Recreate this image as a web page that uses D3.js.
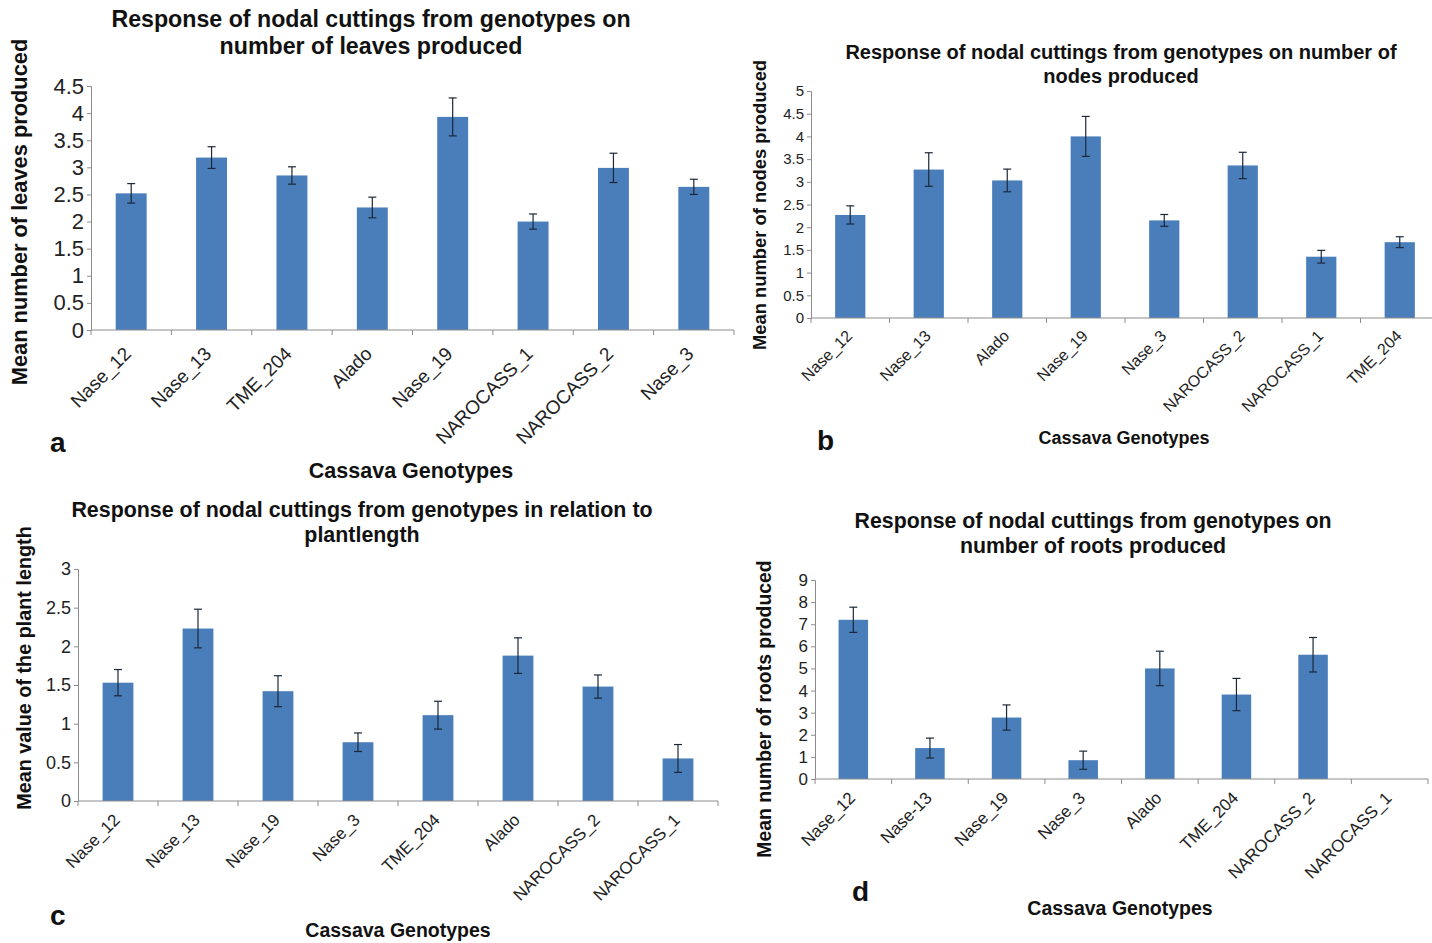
<!DOCTYPE html>
<html>
<head>
<meta charset="utf-8">
<script src="https://cdn.jsdelivr.net/npm/d3@7"></script>
<style>
  body { margin: 0; background: #fff; }
  svg { display: block; font-family: "Liberation Sans", Arial, sans-serif; }
</style>
</head>
<body>
<script>
// ---- data ----

// a: number of leaves
const leafGenotypes = ['Nase_12', 'Nase_13', 'TME_204', 'Alado', 'Nase_19', 'NAROCASS_1', 'NAROCASS_2', 'Nase_3'];
const leafMeans = [2.52, 3.18, 2.85, 2.26, 3.93, 2.0, 2.99, 2.64];
const leafErrors = [0.18, 0.2, 0.16, 0.19, 0.35, 0.14, 0.27, 0.14];
const leafTicks = [0, 0.5, 1, 1.5, 2, 2.5, 3, 3.5, 4, 4.5];

// b: number of nodes
const nodeGenotypes = ['Nase_12', 'Nase_13', 'Alado', 'Nase_19', 'Nase_3', 'NAROCASS_2', 'NAROCASS_1', 'TME_204'];
const nodeMeans = [2.27, 3.27, 3.03, 4.0, 2.15, 3.36, 1.35, 1.67];
const nodeErrors = [0.2, 0.37, 0.25, 0.44, 0.13, 0.29, 0.14, 0.12];
const nodeTicks = [0, 0.5, 1, 1.5, 2, 2.5, 3, 3.5, 4, 4.5, 5];

// c: plant length
const lengthGenotypes = ['Nase_12', 'Nase_13', 'Nase_19', 'Nase_3', 'TME_204', 'Alado', 'NAROCASS_2', 'NAROCASS_1'];
const lengthMeans = [1.53, 2.23, 1.42, 0.76, 1.11, 1.88, 1.48, 0.55];
const lengthErrors = [0.17, 0.25, 0.2, 0.12, 0.18, 0.23, 0.15, 0.18];
const lengthTicks = [0, 0.5, 1, 1.5, 2, 2.5, 3];

// d: number of roots
const rootGenotypes = ['Nase_12', 'Nase-13', 'Nase_19', 'Nase_3', 'Alado', 'TME_204', 'NAROCASS_2', 'NAROCASS_1'];
const rootMeans = [7.2, 1.4, 2.78, 0.85, 5.0, 3.82, 5.62, 0];
const rootErrors = [0.57, 0.45, 0.57, 0.41, 0.78, 0.73, 0.78, 0];
const rootTicks = [0, 1, 2, 3, 4, 5, 6, 7, 8, 9];

const barColor = '#4a7ebb';
const axisColor = '#8c8c8c';

const svg = d3.select('body')
  .append('svg')
  .attr('width', 1432)
  .attr('height', 943);

// draw one bar chart panel
function drawPanel(p) {
  const data = p.cats.map((c, i) => ({ cat: c, mean: p.means[i], err: p.errs[i] }));

  const x = d3.scaleBand()
    .domain(p.cats)
    .range([p.x0, p.x1])
    .paddingInner(0.615)
    .paddingOuter(0.3075);

  const y = d3.scaleLinear()
    .domain([0, d3.max(p.ticks)])
    .range([p.y0, p.y1]);

  const g = svg.append('g');

  // bars
  g.append('g')
    .selectAll('rect')
    .data(data.filter(d => d.mean > 0))
    .join('rect')
    .attr('x', d => x(d.cat))
    .attr('y', d => y(d.mean))
    .attr('width', x.bandwidth())
    .attr('height', d => y(0) - y(d.mean))
    .style('fill', barColor);

  // error bars
  const eb = g.append('g')
    .selectAll('g')
    .data(data.filter(d => d.err > 0))
    .join('g')
    .attr('stroke', '#1c2838')
    .attr('stroke-width', 1.2);
  const cx = d => x(d.cat) + x.bandwidth() / 2;
  eb.append('line')
    .attr('x1', cx).attr('x2', cx)
    .attr('y1', d => y(d.mean + d.err)).attr('y2', d => y(d.mean - d.err));
  eb.append('line')
    .attr('x1', d => cx(d) - 4).attr('x2', d => cx(d) + 4)
    .attr('y1', d => y(d.mean + d.err)).attr('y2', d => y(d.mean + d.err));
  eb.append('line')
    .attr('x1', d => cx(d) - 4).attr('x2', d => cx(d) + 4)
    .attr('y1', d => y(d.mean - d.err)).attr('y2', d => y(d.mean - d.err));

  // y axis
  const yAxis = g.append('g')
    .attr('transform', `translate(${p.x0},0)`)
    .call(d3.axisLeft(y).tickValues(p.ticks).tickFormat(d3.format('~g')).tickSize(4).tickPadding(3));
  yAxis.selectAll('path, line').attr('stroke', axisColor);
  yAxis.selectAll('text')
    .style('font-size', p.yTickSize + 'px')
    .style('fill', '#222');

  // x axis: ticks at category boundaries
  const step = x.step();
  const bounds = d3.range(p.cats.length + 1).map(i => p.x0 + i * step);
  g.append('line')
    .attr('x1', p.x0).attr('x2', p.x1)
    .attr('y1', p.y0).attr('y2', p.y0)
    .attr('stroke', axisColor);
  g.append('g')
    .selectAll('line')
    .data(bounds)
    .join('line')
    .attr('x1', d => d).attr('x2', d => d)
    .attr('y1', p.y0).attr('y2', p.y0 + 5)
    .attr('stroke', axisColor);

  // rotated category labels
  g.append('g')
    .selectAll('text')
    .data(p.cats)
    .join('text')
    .attr('transform', d => `translate(${x(d) + x.bandwidth() / 2 + p.labelDx},${p.y0 + p.labelDy}) rotate(-45)`)
    .style('text-anchor', 'end')
    .style('font-size', p.xTickSize + 'px')
    .style('fill', '#222')
    .text(d => d);

  // title
  g.append('text')
    .attr('x', p.titleX)
    .attr('y', p.titleY)
    .style('text-anchor', 'middle')
    .style('font-size', p.titleSize + 'px')
    .style('font-weight', 'bold')
    .style('fill', '#111')
    .selectAll('tspan')
    .data(p.title)
    .join('tspan')
    .attr('x', p.titleX)
    .attr('dy', (d, i) => i === 0 ? 0 : p.titleGap)
    .text(d => d);

  // y label
  g.append('text')
    .attr('transform', `translate(${p.yLabelX},${p.yLabelY}) rotate(-90)`)
    .style('text-anchor', 'middle')
    .style('font-size', p.yLabelSize + 'px')
    .style('font-weight', 'bold')
    .style('fill', '#111')
    .text(p.yLabel);

  // x label
  g.append('text')
    .attr('x', p.xLabelX)
    .attr('y', p.xLabelY)
    .style('text-anchor', 'middle')
    .style('font-size', p.xLabelSize + 'px')
    .style('font-weight', 'bold')
    .style('fill', '#111')
    .text('Cassava Genotypes');

  // panel letter
  g.append('text')
    .attr('x', p.letterX)
    .attr('y', p.letterY)
    .style('font-size', '28px')
    .style('font-weight', 'bold')
    .style('fill', '#111')
    .text(p.letter);
}

drawPanel({
  cats: leafGenotypes, means: leafMeans, errs: leafErrors, ticks: leafTicks,
  x0: 91, x1: 734, y0: 330, y1: 86,
  yTickSize: 22, xTickSize: 19, labelDx: 1, labelDy: 25,
  title: ['Response of nodal cuttings from genotypes on', 'number of leaves produced'],
  titleX: 371, titleY: 27, titleSize: 23.2, titleGap: 27,
  yLabel: 'Mean number of leaves produced', yLabelX: 27, yLabelY: 212, yLabelSize: 21.8,
  xLabelX: 411, xLabelY: 478, xLabelSize: 21.5,
  letter: 'a', letterX: 50, letterY: 452
});

drawPanel({
  cats: nodeGenotypes, means: nodeMeans, errs: nodeErrors, ticks: nodeTicks,
  x0: 811, x1: 1439, y0: 318, y1: 91,
  yTickSize: 15, xTickSize: 16, labelDx: 3, labelDy: 19,
  title: ['Response of nodal cuttings from genotypes on number of', 'nodes produced'],
  titleX: 1121, titleY: 59, titleSize: 20, titleGap: 24,
  yLabel: 'Mean number of nodes produced', yLabelX: 766, yLabelY: 205, yLabelSize: 18.4,
  xLabelX: 1124, xLabelY: 444, xLabelSize: 18,
  letter: 'b', letterX: 817, letterY: 450
});

drawPanel({
  cats: lengthGenotypes, means: lengthMeans, errs: lengthErrors, ticks: lengthTicks,
  x0: 78, x1: 718, y0: 801, y1: 569,
  yTickSize: 18, xTickSize: 17, labelDx: 3, labelDy: 20,
  title: ['Response of nodal cuttings from genotypes in relation to', 'plantlength'],
  titleX: 362, titleY: 517, titleSize: 21.4, titleGap: 25,
  yLabel: 'Mean value of the plant length', yLabelX: 31, yLabelY: 668, yLabelSize: 19.8,
  xLabelX: 398, xLabelY: 937, xLabelSize: 19.5,
  letter: 'c', letterX: 50, letterY: 925
});

drawPanel({
  cats: rootGenotypes, means: rootMeans, errs: rootErrors, ticks: rootTicks,
  x0: 815, x1: 1428, y0: 779, y1: 580,
  yTickSize: 17, xTickSize: 17, labelDx: 3, labelDy: 20,
  title: ['Response of nodal cuttings from genotypes on', 'number of roots produced'],
  titleX: 1093, titleY: 528, titleSize: 21.3, titleGap: 25,
  yLabel: 'Mean number of roots produced', yLabelX: 771, yLabelY: 709, yLabelSize: 19.4,
  xLabelX: 1120, xLabelY: 915, xLabelSize: 19.5,
  letter: 'd', letterX: 852, letterY: 901
});
</script>
</body>
</html>
